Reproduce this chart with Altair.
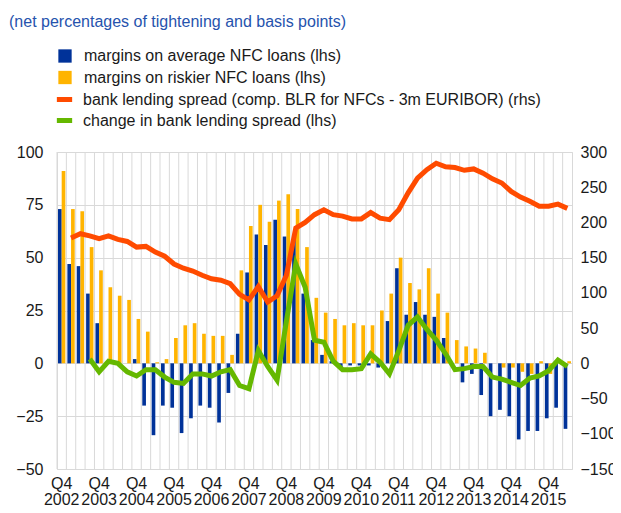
import altair as alt
import pandas as pd

quarters = [
    "2002Q4",
    "2003Q1", "2003Q2", "2003Q3", "2003Q4",
    "2004Q1", "2004Q2", "2004Q3", "2004Q4",
    "2005Q1", "2005Q2", "2005Q3", "2005Q4",
    "2006Q1", "2006Q2", "2006Q3", "2006Q4",
    "2007Q1", "2007Q2", "2007Q3", "2007Q4",
    "2008Q1", "2008Q2", "2008Q3", "2008Q4",
    "2009Q1", "2009Q2", "2009Q3", "2009Q4",
    "2010Q1", "2010Q2", "2010Q3", "2010Q4",
    "2011Q1", "2011Q2", "2011Q3", "2011Q4",
    "2012Q1", "2012Q2", "2012Q3", "2012Q4",
    "2013Q1", "2013Q2", "2013Q3", "2013Q4",
    "2014Q1", "2014Q2", "2014Q3", "2014Q4",
    "2015Q1", "2015Q2", "2015Q3", "2015Q4",
    "2016Q1", "2016Q2",
]

avg_nfc = [73, 47, 46, 33, 19, 0, 0, 0, 2, -20,
           -34, -20, -21, -33, -26, -20, -21, -28, -14, 14,
           43, 61, 56, 68, 60, 60, 33, 11, 4, 1,
           -2, -1, -1, -1, -2, 20, 45, 23, 29, 23,
           22, 12, 0, -9, -5, -15, -25, -22, -25, -36,
           -32, -32, -26, -21, -31]

risky_nfc = [91, 73, 72, 55, 44, 36, 32, 30, 21, 15,
             0.5, 2, 12, 18, 19, 14, 13, 13, 4, 44,
             65, 75, 67, 77, 80, 73, 55, 31, 24, 21,
             18, 19, 18, 18, 25, 33, 50, 38, 35, 45,
             33, 24, 11, 8, 7, 5, 0, -2, -2, -4,
             -5, 1, -5, 0, 1]

spread = [None, 178, 184, 181, 177, 181, 176, 173, 165, 166,
          158, 152, 141, 135, 131, 125, 120, 118, 113, 98,
          90, 109, 87, 96, 125, 192, 200, 211, 218, 211,
          209, 205, 205, 214, 206, 204, 218, 242, 263, 275,
          284, 279, 278, 274, 276, 270, 262, 256, 244, 236,
          230, 223, 223, 226, 220]

spread_change = [None, None, None, 2, -4, 1, 0, -4, -6, -3,
                 -3, -6.5, -9, -9.5, -5, -5, -6, -4, -3, -10.5,
                 -12, 6, -1.5, -8, 20, 47, 36, 11, 10, 1,
                 -3, -3, -2.5, 4.5, 0.5, -5, 6, 18, 22, 16,
                 11, 4.5, -3, -2.5, -1.5, -1.5, -6.5, -7.5, -9, -10.5,
                 -7, -6, -3.5, 1.5, -1.5]

left_ticks = [-50, -25, 0, 25, 50, 75, 100]
right_ticks = [-150, -100, -50, 0, 50, 100, 150, 200, 250, 300]
x_ticks = [q for q in quarters if q.endswith("Q4")]

S_AVG = "margins on average NFC loans (lhs)"
S_RISK = "margins on riskier NFC loans (lhs)"
S_SPREAD = "bank lending spread (comp. BLR for NFCs - 3m EURIBOR) (rhs)"
S_CHG = "change in bank lending spread (lhs)"

BLUE = "#003299"
YELLOW = "#FFB400"
ORANGE = "#FF4B00"
GREEN = "#65B800"
GRID = "#d9d9d9"
TEXT = "#1a1a1a"
TITLE_BLUE = "#2653ad"
FONT = "Liberation Sans, Arial, Helvetica, sans-serif"
n = len(quarters)

bars_df = pd.DataFrame({
    "q": quarters * 2,
    "series": [S_AVG] * n + [S_RISK] * n,
    "value": avg_nfc + risky_nfc,
})
spread_df = pd.DataFrame({"q": quarters, "series": S_SPREAD, "value": spread}).dropna()
chg_df = pd.DataFrame({"q": quarters, "series": S_CHG, "value": spread_change}).dropna()
grid_df = pd.DataFrame({"q": quarters})

xscale = alt.Scale(type="band", domain=quarters, paddingInner=0, paddingOuter=0)
xaxis = alt.Axis(
    title=None, values=x_ticks, grid=False, ticks=False, tickSize=0, domain=False,
    labelAngle=0, labelExpr="[slice(datum.value, 4), slice(datum.value, 0, 4)]",
    labelLineHeight=16.5, labelPadding=6, labelOverlap=False,
    labelFont=FONT, labelFontSize=16, labelColor=TEXT,
)

stroke_scale = alt.Scale(domain=[S_SPREAD, S_CHG], range=[ORANGE, GREEN])
stroke_legend = alt.Legend(
    title=None, orient="none", legendX=-3, legendY=-63, symbolType="stroke",
    symbolSize=234, symbolStrokeWidth=5, labelFontSize=16, labelFont=FONT,
    labelColor=TEXT, labelOffset=8, rowPadding=0, labelLimit=700, padding=0,
)

grid = alt.Chart(grid_df).mark_rule(color=GRID, strokeWidth=1).encode(
    x=alt.X("q:N", scale=xscale, axis=xaxis, bandPosition=0),
)

bar_chart = alt.Chart(bars_df).mark_bar().encode(
    x=alt.X("q:N", scale=xscale, axis=xaxis),
    xOffset=alt.XOffset("series:N", scale=alt.Scale(domain=[S_AVG, S_RISK], paddingInner=0, paddingOuter=0.277)),
    y=alt.Y("value:Q", scale=alt.Scale(domain=[-50, 100], nice=False),
            axis=alt.Axis(title=None, orient="left", values=left_ticks, grid=True, gridColor=GRID,
                          ticks=False, tickSize=0, domain=False, labelPadding=14,
                          labelFont=FONT, labelFontSize=16, labelColor=TEXT)),
    fill=alt.Fill("series:N", scale=alt.Scale(domain=[S_AVG, S_RISK], range=[BLUE, YELLOW]),
                  legend=alt.Legend(title=None, orient="none", legendX=0, legendY=-104,
                                    symbolType="square", symbolSize=177, symbolStrokeWidth=0,
                                    labelFontSize=16, labelFont=FONT, labelColor=TEXT,
                                    labelOffset=11, rowPadding=5.5, labelLimit=700, padding=0)),
)

spread_line = alt.Chart(spread_df).mark_line(strokeWidth=5).encode(
    x=alt.X("q:N", scale=xscale, axis=xaxis),
    y=alt.Y("value:Q", scale=alt.Scale(domain=[-150, 300], nice=False),
            axis=alt.Axis(title=None, orient="right", values=right_ticks, grid=False,
                          ticks=False, tickSize=0, domain=False, labelPadding=8,
                          labelFont=FONT, labelFontSize=16, labelColor=TEXT)),
    stroke=alt.Stroke("series:N", scale=stroke_scale, legend=stroke_legend),
)

chg_line = alt.Chart(chg_df).mark_line(strokeWidth=5).encode(
    x=alt.X("q:N", scale=xscale, axis=xaxis),
    y=alt.Y("value:Q", scale=alt.Scale(domain=[-50, 100], nice=False), axis=None),
    stroke=alt.Stroke("series:N", scale=stroke_scale, legend=stroke_legend),
)

chart = alt.layer(grid, bar_chart, spread_line, chg_line).resolve_scale(
    y="independent"
).properties(
    width=515,
    height=317,
    autosize=alt.AutoSizeParams(type="none"),
    padding={"left": 49, "top": 144, "right": 41, "bottom": 36},
    title=alt.TitleParams(
        "(net percentages of tightening and basis points)",
        anchor="start", frame="group", dx=-48, offset=18,
        fontSize=16, font=FONT, fontWeight="normal", color=TITLE_BLUE,
    ),
).configure_view(stroke=GRID).configure_axis(
    labelFont=FONT, labelFontSize=16, labelColor=TEXT
).configure_title(font=FONT)

chart.save("out.html", embed_options={"renderer": "svg", "actions": False})
